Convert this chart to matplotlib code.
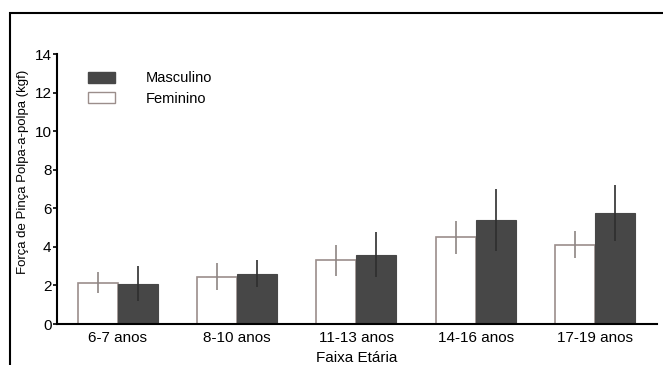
import matplotlib.pyplot as plt
import numpy as np
from matplotlib.patches import Rectangle, Patch

faixas = ['6-7 anos', '8-10 anos', '11-13 anos', '14-16 anos', '17-19 anos']
feminino = [2.15, 2.45, 3.3, 4.5, 4.1]
feminino_dp = [0.55, 0.7, 0.8, 0.85, 0.7]
masculino = [2.1, 2.6, 3.6, 5.4, 5.75]
masculino_dp = [0.9, 0.7, 1.15, 1.6, 1.45]

plt.rcParams['font.family'] = ['Liberation Sans Narrow', 'Liberation Sans', 'DejaVu Sans']

fig = plt.figure(figsize=(6.63, 3.65), dpi=100)
ax = fig.add_axes([57/663, 1 - 324/365, 600/663, 270/365])

x = np.arange(len(faixas))
w = 0.335
cor_fem = '#9b8e8b'
cor_masc = '#474747'

ax.bar(x - w/2, feminino, w, color='white', edgecolor=cor_fem, linewidth=1.2, zorder=2)
ax.errorbar(x - w/2, feminino, yerr=feminino_dp, fmt='none', ecolor='#8d8583',
            elinewidth=1.2, capsize=0, zorder=3)
ax.bar(x + w/2, masculino, w, color=cor_masc, edgecolor=cor_masc, linewidth=0.8, zorder=2)
ax.errorbar(x + w/2, masculino, yerr=masculino_dp, fmt='none', ecolor='#2e2e2e',
            elinewidth=1.2, capsize=0, zorder=3)

ax.set_xlim(-0.51, 4.52)
ax.set_ylim(0, 14)
ax.set_yticks([0, 2, 4, 6, 8, 10, 12, 14])
ax.set_xticks(x)
ax.set_xticklabels(faixas, fontsize=11)
ax.tick_params(axis='x', length=0, pad=5)
ax.tick_params(axis='y', length=3, width=1.2, labelsize=11, pad=1)
ax.spines['top'].set_visible(False)
ax.spines['right'].set_visible(False)
ax.spines['left'].set_linewidth(1.5)
ax.spines['bottom'].set_linewidth(1.5)

ax.set_ylabel('Força de Pinça Polpa-a-polpa (kgf)', fontsize=9.5)
ax.yaxis.set_label_coords(-0.046, 0.563)
ax.set_xlabel('Faixa Etária', fontsize=11, labelpad=4)

handles = [Patch(facecolor=cor_masc, edgecolor=cor_masc),
           Patch(facecolor='white', edgecolor=cor_fem)]
ax.legend(handles, ['Masculino', 'Feminino'], loc='upper left',
          bbox_to_anchor=(0.03, 0.985), frameon=False,
          prop={'family': ['Liberation Sans', 'DejaVu Sans'], 'size': 10.5},
          handlelength=1.85, handleheight=0.8, handletextpad=2.1, labelspacing=0.45)

fig.patches.append(Rectangle((10/663, -0.1), 1.1, 1 - 13/365 + 0.1,
                             transform=fig.transFigure, fill=False,
                             edgecolor='black', linewidth=1.5))

plt.savefig('out.png', dpi=100)
plt.close()
